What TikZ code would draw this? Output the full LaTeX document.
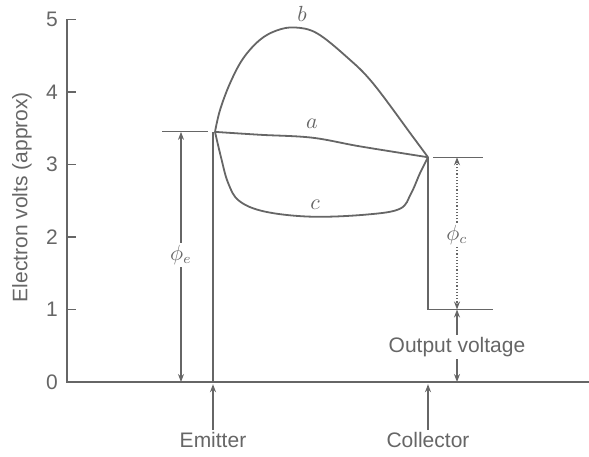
\documentclass[tikz,border=0pt]{standalone}
\usepackage{fontspec}
\setmainfont{Liberation Sans}
\usepackage{tikz}
\usetikzlibrary{arrows.meta}

\tikzset{
  curve/.style={line width=0.9pt, black!60},
  dimline/.style={line width=0.6pt, black!60},
  lbl/.style={text=black!60, font=\fontsize{10.5}{12}\selectfont, inner sep=1pt},
}

\begin{document}
\begin{tikzpicture}[x=0.5pt, y=36.25pt, >={Stealth[length=4pt,width=3pt]}]
  \useasboundingbox (-67,-1.034) rectangle (522,5.269);
  % Axes and ticks
  \draw[curve] (0,5) -- (0,0) -- (522,0);
  \foreach \v in {1,...,5} {
    \draw[curve] (0,\v) -- (9,\v);
  }
  \foreach \v in {0,...,5} {
    \node[lbl] (tick\v) at (-15,\v) {\v};
  }
  \node[lbl, rotate=90] (ylabel) at (-45,2.55) {Electron volts (approx)};

  % Emitter and collector walls
  \coordinate (E) at (148,3.45);
  \coordinate (C) at (361,3.10);
  \draw[curve] (146,0) -- (146,3.45);
  \draw[curve] (C) -- (361,1.0) -- (426,1.0);

  % Curve a
  \draw[curve] plot[smooth, tension=0.6] coordinates {(E) (193,3.41) (245,3.37) (293,3.25) (C)};
  \node[lbl] (a) at (245,3.56) {$a$};
  % Curve b
  \draw[curve] plot[smooth, tension=0.6] coordinates {(E) (153,3.75) (163,4.12) (176,4.46)
    (193,4.72) (210,4.85) (228,4.89) (250,4.81) (280,4.48) (306,4.12) (346,3.38) (C)};
  \node[lbl] (b) at (235,5.08) {$b$};
  % Curve c
  \draw[curve] plot[smooth, tension=0.6] coordinates {(E) (154,3.1) (161,2.75) (172,2.5)
    (198,2.35) (245,2.28) (300,2.31) (333,2.39) (344,2.6) (353,2.88) (C)};
  \node[lbl] (c) at (248,2.45) {$c$};

  % Work function of emitter
  \draw[dimline] (95,3.45) -- (141,3.45);
  \node[lbl] (phie) at (114,1.75) {$\phi_e$};
  \draw[dimline, ->] (phie) -- (114,3.45);
  \draw[dimline, ->] (phie) -- (114,0);

  % Work function of collector
  \draw[dimline] (366,3.10) -- (416,3.10);
  \node[lbl] (phic) at (390,2.03) {$\phi_c$};
  \draw[dimline, densely dotted, ->] (phic) -- (390,3.10);
  \draw[dimline, densely dotted, ->] (phic) -- (390,1.0);

  % Output voltage
  \node[lbl] (outv) at (390,0.48) {Output voltage};
  \draw[dimline, ->] (outv) -- (390,1.0);
  \draw[dimline, ->] (outv) -- (390,0);

  % Electrode labels
  \node[lbl] (emit) at (146,-0.8) {Emitter};
  \node[lbl] (coll) at (361,-0.8) {Collector};
  \draw[dimline, ->] (emit) -- (146,-0.03);
  \draw[dimline, ->] (coll) -- (361,-0.03);
\end{tikzpicture}
\end{document}
